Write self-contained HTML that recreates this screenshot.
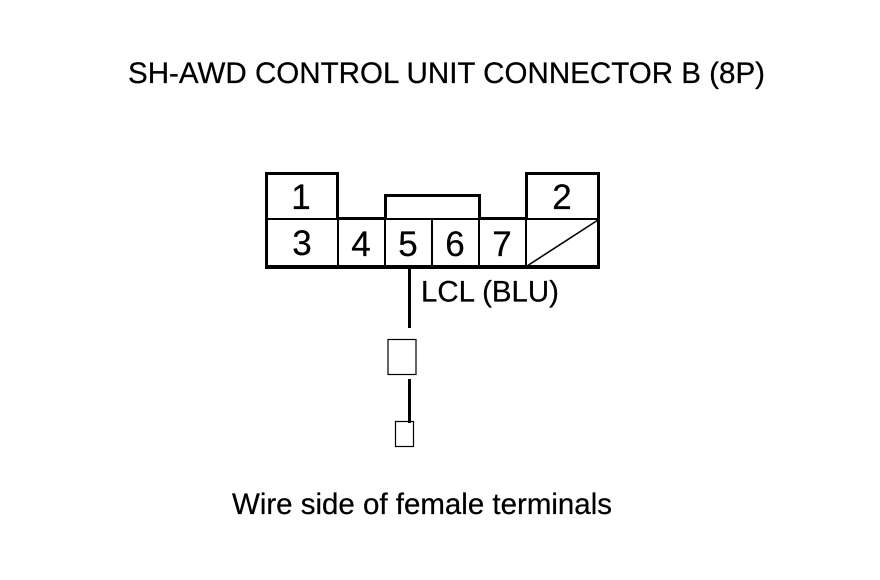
<!DOCTYPE html>
<html>
<head>
<meta charset="utf-8">
<style>
html,body{margin:0;padding:0;background:#fff;}
svg{display:block;}
text{font-family:"Liberation Sans",Arial,sans-serif;fill:#000;stroke:#000;stroke-width:0.25;}
</style>
</head>
<body>
<svg width="880" height="580" viewBox="0 0 880 580" xmlns="http://www.w3.org/2000/svg">
<rect width="880" height="580" fill="#fff"/>
<g fill="#000" shape-rendering="crispEdges">
<!-- outer outline -->
<rect x="265" y="172" width="3" height="97"/>
<rect x="265" y="172" width="74" height="3"/>
<rect x="336" y="172" width="3" height="48"/>
<rect x="265" y="265" width="335" height="4"/>
<rect x="525" y="172" width="75" height="3"/>
<rect x="525" y="172" width="3" height="48"/>
<rect x="597" y="172" width="3" height="97"/>
<!-- shoulders -->
<rect x="336" y="217" width="50" height="3"/>
<rect x="478" y="217" width="50" height="3"/>
<!-- top middle -->
<rect x="384" y="194" width="97" height="3"/>
<rect x="384" y="194" width="3" height="26"/>
<rect x="478" y="194" width="3" height="26"/>
<!-- thin row divider -->
<rect x="266" y="218" width="332" height="2"/>
<!-- cell dividers -->
<rect x="337" y="219" width="2" height="47"/>
<rect x="384" y="219" width="2" height="47"/>
<rect x="431" y="219" width="2" height="47"/>
<rect x="478" y="219" width="2" height="47"/>
<rect x="525" y="219" width="2" height="47"/>
<!-- wires -->
<rect x="408" y="268" width="3" height="60"/>
<rect x="408" y="379" width="3" height="44"/>
</g>
<line x1="527" y1="266" x2="598" y2="220" stroke="#000" stroke-width="1.6"/>
<rect x="388" y="339.5" width="28" height="35" fill="none" stroke="#000" stroke-width="1.2"/>
<rect x="395.5" y="421.5" width="18" height="25" fill="none" stroke="#000" stroke-width="1.2"/>
<text x="128" y="83" font-size="29.5" textLength="637" lengthAdjust="spacingAndGlyphs">SH-AWD CONTROL UNIT CONNECTOR B (8P)</text>
<text x="301" y="209" font-size="35" text-anchor="middle">1</text>
<text x="562" y="209" font-size="35" text-anchor="middle">2</text>
<text x="302" y="255" font-size="35" text-anchor="middle">3</text>
<text x="361" y="256" font-size="35" text-anchor="middle">4</text>
<text x="408" y="256" font-size="35" text-anchor="middle">5</text>
<text x="455" y="256" font-size="35" text-anchor="middle">6</text>
<text x="502" y="256" font-size="35" text-anchor="middle">7</text>
<text x="421" y="301.5" font-size="29.5" textLength="138" lengthAdjust="spacingAndGlyphs">LCL (BLU)</text>
<text x="232" y="514" font-size="29.5" textLength="380" lengthAdjust="spacingAndGlyphs">Wire side of female terminals</text>
</svg>
</body>
</html>
